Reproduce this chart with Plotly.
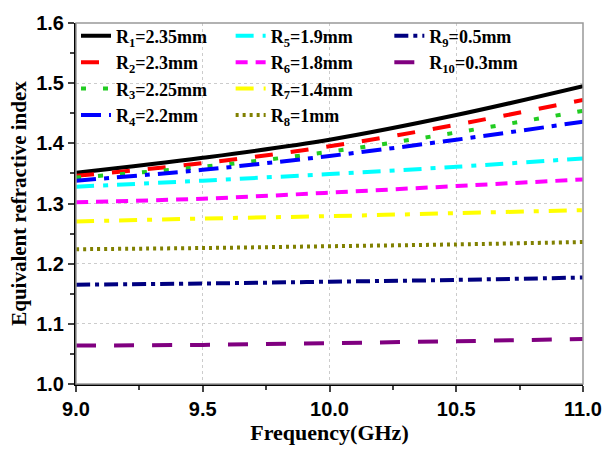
import plotly.graph_objects as go

freq = [9.0, 9.5, 10.0, 10.5, 11.0]
names = ["R<sub>1</sub>=2.35mm", "R<sub>2</sub>=2.3mm", "R<sub>3</sub>=2.25mm", "R<sub>4</sub>=2.2mm",
         "R<sub>5</sub>=1.9mm", "R<sub>6</sub>=1.8mm", "R<sub>7</sub>=1.4mm", "R<sub>8</sub>=1mm",
         "R<sub>9</sub>=0.5mm", "R<sub>10</sub>=0.3mm"]
r1 = [1.351, 1.376, 1.406, 1.447, 1.495]
r2 = [1.346, 1.367, 1.395, 1.431, 1.472]
r3 = [1.343, 1.361, 1.386, 1.418, 1.454]
r4 = [1.338, 1.356, 1.379, 1.406, 1.436]
r5 = [1.328, 1.338, 1.349, 1.361, 1.375]
r6 = [1.302, 1.308, 1.318, 1.329, 1.340]
r7 = [1.270, 1.275, 1.279, 1.284, 1.289]
r8 = [1.224, 1.226, 1.229, 1.232, 1.236]
r9 = [1.165, 1.167, 1.170, 1.173, 1.177]
r10 = [1.064, 1.065, 1.068, 1.071, 1.075]
series = [r1, r2, r3, r4, r5, r6, r7, r8, r9, r10]
colors = ["#000000", "#ff0000", "#22cc22", "#0000ff", "#00ffff", "#ff00ff", "#ffff00", "#808000", "#000080", "#800080"]
dashes = ["solid", "18px,18px", "5px,17px", "20px,8px,5px,8px", "18px,9px,5px,9px", "12px,8px",
          "18px,10px,5px,10px", "3px,4px", "14px,5px,4px,5px", "20px,18px"]
legends = ["legend"] * 4 + ["legend2"] * 4 + ["legend3"] * 2

fig = go.Figure()
for n, s, c, d, lg in zip(names, series, colors, dashes, legends):
    fig.add_trace(go.Scatter(x=freq, y=s, mode="lines", name=n, legend=lg,
                             line=dict(color=c, width=4, dash=d, shape="spline")))

lfont = dict(family="Liberation Serif", size=18, color="black", weight="bold")
common = dict(bgcolor="rgba(0,0,0,0)", font=lfont, yanchor="top", xanchor="left", tracegroupgap=0, itemwidth=30)
fig.update_layout(
    width=614, height=453,
    margin=dict(l=76, r=27, t=21, b=69),
    plot_bgcolor="white", paper_bgcolor="white",
    legend=dict(x=0.0, y=1.015, **common),
    legend2=dict(x=0.305, y=1.015, **common),
    legend3=dict(x=0.618, y=1.015, **common),
    xaxis=dict(range=[9.0, 11.0], tickvals=[9.0, 9.5, 10.0, 10.5, 11.0], ticktext=["9.0", "9.5", "10.0", "10.5", "11.0"],
               showline=True, linecolor="black", linewidth=2, ticks="outside", ticklen=6, tickwidth=2,
               minor=dict(tickvals=[9.25, 9.75, 10.25, 10.75], ticks="outside", ticklen=4, tickwidth=2, showgrid=False),
               showgrid=True, gridcolor="#cccccc", griddash="dot", gridwidth=1, zeroline=False,
               tickfont=dict(family="Liberation Sans", size=20, color="black", weight="bold"),
               title=dict(text="<b>Frequency(GHz)</b>", font=dict(family="Liberation Serif", size=22, color="black"), standoff=6)),
    yaxis=dict(range=[1.0, 1.6], tickvals=[1.0, 1.1, 1.2, 1.3, 1.4, 1.5, 1.6],
               ticktext=["1.0", "1.1", "1.2", "1.3", "1.4", "1.5", "1.6"],
               showline=True, linecolor="black", linewidth=2, ticks="outside", ticklen=6, tickwidth=2,
               minor=dict(tickvals=[1.05, 1.15, 1.25, 1.35, 1.45, 1.55], ticks="outside", ticklen=4, tickwidth=2, showgrid=False),
               showgrid=True, gridcolor="#cccccc", griddash="dot", gridwidth=1, zeroline=False,
               tickfont=dict(family="Liberation Sans", size=20, color="black", weight="bold"),
               title=dict(text="<b>Equivalent refractive index</b>", font=dict(family="Liberation Serif", size=21, color="black"), standoff=4)),
    showlegend=True,
)
fig.add_shape(type="rect", xref="paper", yref="paper", x0=0, x1=1, y0=0, y1=1,
              line=dict(color="#999999", width=1.5), layer="above")
fig.write_html("out.html")
